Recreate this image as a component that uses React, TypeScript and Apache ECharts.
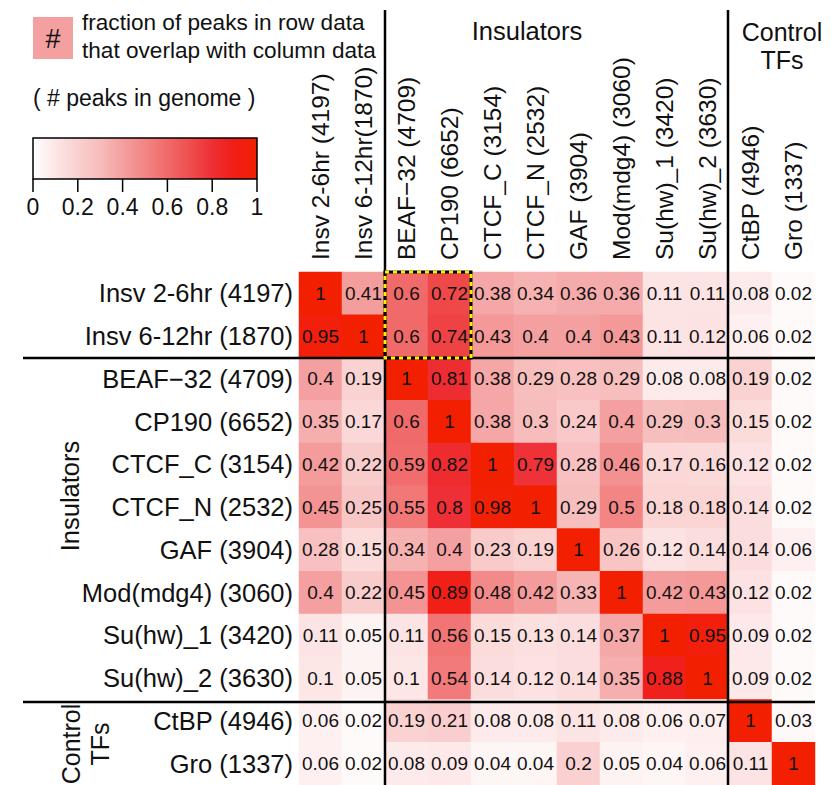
import React, { useEffect, useRef } from "react";
import * as echarts from "echarts";

const rowLabels = [
  "Insv 2-6hr (4197)",
  "Insv 6-12hr (1870)",
  "BEAF\u221232 (4709)",
  "CP190 (6652)",
  "CTCF_C (3154)",
  "CTCF_N (2532)",
  "GAF (3904)",
  "Mod(mdg4) (3060)",
  "Su(hw)_1 (3420)",
  "Su(hw)_2 (3630)",
  "CtBP (4946)",
  "Gro (1337)",
];

const colLabels = [
  "Insv 2-6hr (4197)",
  "Insv 6-12hr(1870)",
  "BEAF\u221232 (4709)",
  "CP190 (6652)",
  "CTCF_C (3154)",
  "CTCF_N (2532)",
  "GAF (3904)",
  "Mod(mdg4) (3060)",
  "Su(hw)_1 (3420)",
  "Su(hw)_2 (3630)",
  "CtBP (4946)",
  "Gro (1337)",
];

const rowInsv26 = [1, 0.41, 0.6, 0.72, 0.38, 0.34, 0.36, 0.36, 0.11, 0.11, 0.08, 0.02];
const rowInsv612 = [0.95, 1, 0.6, 0.74, 0.43, 0.4, 0.4, 0.43, 0.11, 0.12, 0.06, 0.02];
const rowBEAF = [0.4, 0.19, 1, 0.81, 0.38, 0.29, 0.28, 0.29, 0.08, 0.08, 0.19, 0.02];
const rowCP190 = [0.35, 0.17, 0.6, 1, 0.38, 0.3, 0.24, 0.4, 0.29, 0.3, 0.15, 0.02];
const rowCTCFC = [0.42, 0.22, 0.59, 0.82, 1, 0.79, 0.28, 0.46, 0.17, 0.16, 0.12, 0.02];
const rowCTCFN = [0.45, 0.25, 0.55, 0.8, 0.98, 1, 0.29, 0.5, 0.18, 0.18, 0.14, 0.02];
const rowGAF = [0.28, 0.15, 0.34, 0.4, 0.23, 0.19, 1, 0.26, 0.12, 0.14, 0.14, 0.06];
const rowMod = [0.4, 0.22, 0.45, 0.89, 0.48, 0.42, 0.33, 1, 0.42, 0.43, 0.12, 0.02];
const rowSu1 = [0.11, 0.05, 0.11, 0.56, 0.15, 0.13, 0.14, 0.37, 1, 0.95, 0.09, 0.02];
const rowSu2 = [0.1, 0.05, 0.1, 0.54, 0.14, 0.12, 0.14, 0.35, 0.88, 1, 0.09, 0.02];
const rowCtBP = [0.06, 0.02, 0.19, 0.21, 0.08, 0.08, 0.11, 0.08, 0.06, 0.07, 1, 0.03];
const rowGro = [0.06, 0.02, 0.08, 0.09, 0.04, 0.04, 0.2, 0.05, 0.04, 0.06, 0.11, 1];

const matrix = [
  rowInsv26, rowInsv612, rowBEAF, rowCP190, rowCTCFC, rowCTCFN,
  rowGAF, rowMod, rowSu1, rowSu2, rowCtBP, rowGro,
];

const colorbarTicks = [0, 0.2, 0.4, 0.6, 0.8, 1];

const scaleColors = [
  "#ffffff", "#fde6e6", "#fad0d0", "#f7bcbc", "#f4a0a0", "#f38585",
  "#f16a6a", "#ef4e4e", "#ee2f35", "#f01e16", "#f22000",
];

const FONT = "'Liberation Sans', Arial, Helvetica, sans-serif";

export default function App() {
  const ref = useRef<HTMLDivElement>(null);

  useEffect(() => {
    if (!ref.current) return;
    const chart = echarts.init(ref.current, null, { renderer: "svg" });

    const data: [number, number, number][] = [];
    matrix.forEach((row, r) => row.forEach((v, c) => data.push([c, r, v])));

    const gridLeft = 299;
    const gridTop = 272;
    const cell = 43;
    const gridRight = gridLeft + cell * 12;

    const cbX = 33, cbY = 138, cbW = 224, cbH = 41;
    const stops = scaleColors.map((c, i) => ({ offset: i / (scaleColors.length - 1), color: c }));

    const graphics: any[] = [];
    graphics.push({
      type: "rect",
      shape: { x: cbX, y: cbY, width: cbW, height: cbH },
      style: { fill: new echarts.graphic.LinearGradient(0, 0, 1, 0, stops), stroke: "#000", lineWidth: 1.5 },
      z: 10,
    });
    colorbarTicks.forEach((t) => {
      const x = cbX + t * cbW;
      graphics.push({
        type: "line",
        shape: { x1: x, y1: cbY + cbH, x2: x, y2: cbY + cbH + 13 },
        style: { stroke: "#000", lineWidth: 1.5 },
        z: 10,
      });
      graphics.push({
        type: "text",
        x, y: 207,
        style: { text: String(t), fontSize: 23, fontFamily: FONT, fill: "#111", align: "center", verticalAlign: "middle" },
        z: 10,
      });
    });
    graphics.push({
      type: "rect",
      shape: { x: 33, y: 17, width: 40, height: 42 },
      style: { fill: "#f4a0a0" },
      z: 10,
    });
    graphics.push({
      type: "text", x: 53, y: 39,
      style: { text: "#", fontSize: 27, fontFamily: FONT, fill: "#111", align: "center", verticalAlign: "middle" },
      z: 11,
    });
    graphics.push({
      type: "text", x: 82, y: 22,
      style: { text: "fraction of peaks in row data", fontSize: 22.6, fontFamily: FONT, fill: "#111", align: "left", verticalAlign: "middle" },
      z: 10,
    });
    graphics.push({
      type: "text", x: 82, y: 50,
      style: { text: "that overlap with column data", fontSize: 22.6, fontFamily: FONT, fill: "#111", align: "left", verticalAlign: "middle" },
      z: 10,
    });
    graphics.push({
      type: "text", x: 33, y: 98,
      style: { text: "( # peaks in genome )", fontSize: 23, fontFamily: FONT, fill: "#111", align: "left", verticalAlign: "middle" },
      z: 10,
    });
    graphics.push({
      type: "text", x: 527, y: 31,
      style: { text: "Insulators", fontSize: 25.5, fontFamily: FONT, fill: "#111", align: "center", verticalAlign: "middle" },
      z: 10,
    });
    graphics.push({
      type: "text", x: 782, y: 46,
      style: { text: "Control\nTFs", fontSize: 25, lineHeight: 28, fontFamily: FONT, fill: "#111", align: "center", verticalAlign: "middle" },
      z: 10,
    });
    graphics.push({
      type: "text", x: 70, y: 496, rotation: Math.PI / 2,
      style: { text: "Insulators", fontSize: 25.5, fontFamily: FONT, fill: "#111", align: "center", verticalAlign: "middle" },
      z: 10,
    });
    graphics.push({
      type: "text", x: 85, y: 744, rotation: Math.PI / 2,
      style: { text: "Control\nTFs", fontSize: 25, lineHeight: 29, fontFamily: FONT, fill: "#111", align: "center", verticalAlign: "middle" },
      z: 10,
    });
    const vx1 = gridLeft + 2 * cell;
    const vx2 = gridLeft + 10 * cell - 1;
    const hy1 = gridTop + 2 * cell;
    const hy2 = gridTop + 10 * cell;
    graphics.push({ type: "line", shape: { x1: vx1, y1: 10, x2: vx1, y2: 790 }, style: { stroke: "#000", lineWidth: 2.5 }, z: 20 });
    graphics.push({ type: "line", shape: { x1: vx2, y1: 10, x2: vx2, y2: 790 }, style: { stroke: "#000", lineWidth: 2.5 }, z: 20 });
    graphics.push({ type: "line", shape: { x1: 23, y1: hy1, x2: gridRight, y2: hy1 }, style: { stroke: "#000", lineWidth: 2.5 }, z: 20 });
    graphics.push({ type: "line", shape: { x1: 23, y1: hy2, x2: gridRight, y2: hy2 }, style: { stroke: "#000", lineWidth: 2.5 }, z: 20 });
    const hb = { x: gridLeft + 2 * cell, y: gridTop, width: 2 * cell, height: 2 * cell };
    graphics.push({ type: "rect", shape: hb, style: { fill: "none", stroke: "#000", lineWidth: 3 }, z: 30 });
    graphics.push({ type: "rect", shape: hb, style: { fill: "none", stroke: "#ffee00", lineWidth: 3, lineDash: [4, 4] }, z: 31 });

    chart.setOption({
      animation: false,
      backgroundColor: "#ffffff",
      textStyle: { fontFamily: FONT },
      grid: { left: gridLeft, top: gridTop, width: cell * 12, height: cell * 12 },
      xAxis: {
        type: "category",
        data: colLabels,
        position: "top",
        axisLine: { show: false },
        axisTick: { show: false },
        splitLine: { show: false },
        axisLabel: { rotate: -90, interval: 0, fontSize: 24.5, color: "#111", margin: 12, fontFamily: FONT },
      },
      yAxis: {
        type: "category",
        data: rowLabels,
        inverse: true,
        axisLine: { show: false },
        axisTick: { show: false },
        splitLine: { show: false },
        axisLabel: { interval: 0, fontSize: 25.5, color: "#111", margin: 6, fontFamily: FONT },
      },
      visualMap: {
        show: false,
        min: 0,
        max: 1,
        dimension: 2,
        inRange: { color: scaleColors },
      },
      series: [
        {
          type: "heatmap",
          data,
          label: {
            show: true,
            fontSize: 19,
            color: "#111",
            fontFamily: FONT,
            formatter: (p: any) => String(p.value[2]),
          },
          itemStyle: { borderWidth: 0 },
          emphasis: { disabled: true },
        },
      ],
      graphic: graphics,
    });

    return () => chart.dispose();
  }, []);

  return (
    <div
      ref={ref}
      style={{ position: "absolute", left: 0, top: 0, width: 833, height: 785 }}
    />
  );
}
